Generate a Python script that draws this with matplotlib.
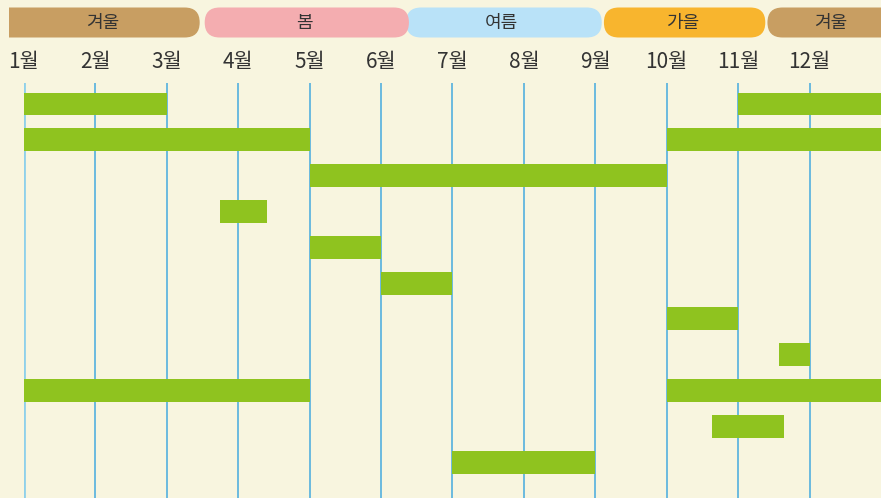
import matplotlib
matplotlib.use("Agg")
import matplotlib.pyplot as plt
from matplotlib.patches import FancyBboxPatch, Rectangle

plt.rcParams['font.family'] = ['Noto Sans CJK KR', 'DejaVu Sans']

# ---- data ----
months = ["1월", "2월", "3월", "4월", "5월", "6월", "7월", "8월", "9월", "10월", "11월", "12월"]
seasons = ["겨울", "봄", "여름", "가을", "겨울"]
season_start = [-0.21, 2.53, 5.35, 8.12, 10.41]
season_end = [2.46, 5.39, 8.09, 10.38, 12.23]
season_colors = ["#c89e62", "#f4adb0", "#b9e2f8", "#f8b52e", "#c89e62"]

bar_rows = [0, 0, 1, 1, 2, 3, 4, 5, 6, 7, 8, 8, 9, 10]
bar_start = [0, 10, 0, 9, 4, 2.75, 4, 5, 9, 10.57, 0, 9, 9.63, 6]
bar_end = [2, 12, 4, 12, 9, 3.4, 5, 6, 10, 11.01, 4, 12, 10.64, 8]

# ---- style ----
W, H = 881, 498
bg = "#f8f5df"
green = "#8fc31f"
line_blue = "#45aade"
text_col = "#333333"

fig = plt.figure(figsize=(W / 100, H / 100), dpi=100, facecolor=bg)

# main axes: x 24px..881px -> months 0..12 ; y 83px..498px
ax = fig.add_axes([24 / W, 0, 857 / W, (498 - 83) / H])
ax.set_facecolor(bg)
ax.set_xlim(0, 12)
ax.set_ylim(11.0, -0.586)
for s in ax.spines.values():
    s.set_visible(False)
ax.set_xticks([])
ax.set_yticks([])

for i in range(12):
    if i == 0:
        ax.axvline(i, color="#8fd0ea", lw=2.0, zorder=1)
    else:
        ax.axvline(i, color=line_blue, lw=1.1, zorder=1)

widths = [e - s for s, e in zip(bar_start, bar_end)]
ax.barh(bar_rows, widths, left=bar_start, height=0.64, color=green, zorder=2, linewidth=0)

# overlay axes in pixel coords for header
hx = fig.add_axes([0, 0, 1, 1], facecolor="none")
hx.set_xlim(0, W)
hx.set_ylim(0, H)
hx.axis("off")

fig.canvas.draw()
def m2px(m):
    return ax.transData.transform((m, 0))[0]

band_top, band_bot = H - 7.5, H - 37.5
bh = band_top - band_bot
order = [4, 3, 0, 2, 1]
for k in order:
    x0, x1 = m2px(season_start[k]), m2px(season_end[k])
    draw_x0 = x0 - 20 if k == 0 else x0
    p = FancyBboxPatch((draw_x0, band_bot), x1 - draw_x0, bh,
                       boxstyle="round,pad=0,rounding_size=15",
                       fc=season_colors[k], ec="none", zorder=2)
    hx.add_patch(p)
    if k == 0:
        clip = Rectangle((x0, 0), W, H, transform=hx.transData, visible=False)
        hx.add_patch(clip)
        p.set_clip_path(clip)
    hx.text((x0 + x1) / 2 - 2, band_bot + bh / 2 - 0.5, seasons[k], ha="center", va="center",
            fontsize=13, color=text_col, zorder=4)

for i, lab in enumerate(months):
    hx.text(m2px(i), H - 62, lab, ha="center", va="center", fontsize=15, color=text_col)

fig.savefig("out.png", dpi=100, facecolor=bg)
